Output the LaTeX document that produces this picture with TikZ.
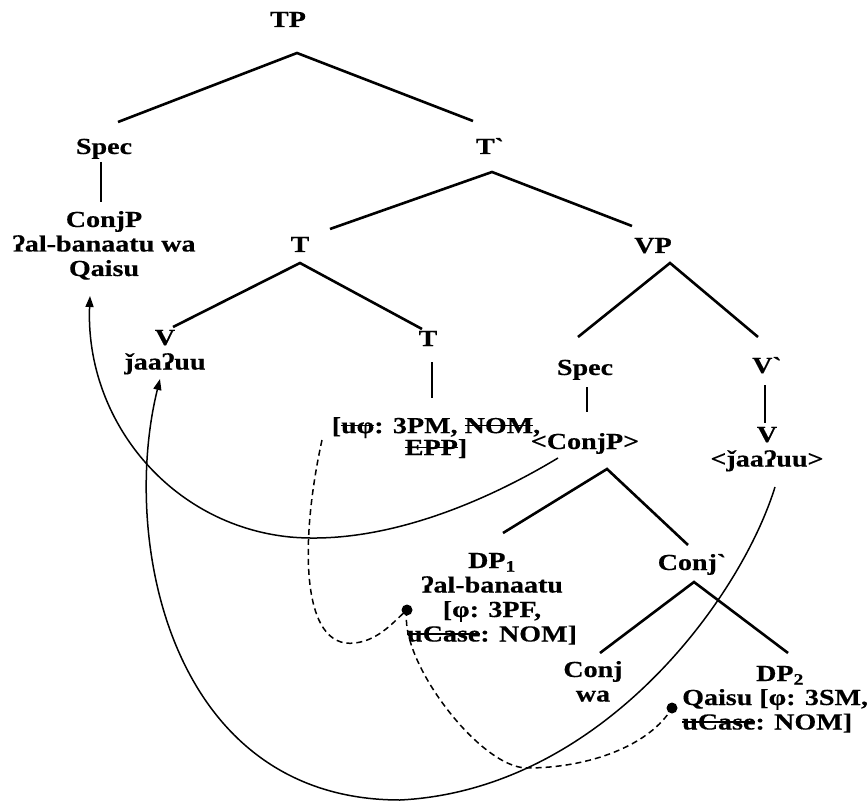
\documentclass[tikz,border=0pt]{standalone}
\usepackage{fontspec}
\usetikzlibrary{arrows.meta}
\newfontfamily\treefont{Liberation Serif}[FakeStretch=1.22, FakeBold=0.4]
% struck-out feature text
\newsavebox\strkbox
\newcommand\strk[1]{\sbox\strkbox{#1}\rlap{\rule[0.3em]{\wd\strkbox}{1.4pt}}\usebox\strkbox}
\tikzset{
  lbl/.style={font=\treefont\bfseries\fontsize{23}{24.5}\selectfont,
              inner sep=0pt, anchor=base, align=center},
  branch/.style={line width=2.6pt},
  mv/.style={line width=1.5pt, -{Triangle[length=11pt,width=8pt]}},
  agree/.style={line width=1.5pt, dash pattern=on 6pt off 4pt},
  probe/.style={circle, fill=black, inner sep=0pt, minimum size=11pt}
}
\begin{document}
\begin{tikzpicture}[x=1pt, y=-1pt]
\useasboundingbox (0,0) rectangle (867,802);

% labels (multi-line labels are placed by the baseline of their last line)
\node[lbl] (tp) at (288,27) {TP};
\node[lbl] (spec1) at (104,154) {Spec};
\node[lbl] (tbar) at (490,154) {T`};
\node[lbl] (conjp) at (104,276) {ConjP\\ʔal-banaatu wa\\Qaisu};
\node[lbl] (t) at (300,252) {T};
\node[lbl] (vp) at (653,253) {VP};
\node[lbl] (vl) at (165,369.5) {V\\ǰaaʔuu};
\node[lbl] (tr) at (428,346) {T};
\node[lbl, font=\treefont\bfseries\fontsize{23}{20}\selectfont] (tfeat) at (436,455)
  {[\strk{uφ}: 3PM, \strk{NOM},\\\strk{EPP}]};
\node[lbl] (spec2) at (585,375) {Spec};
\node[lbl] (cpcopy) at (585,449) {<ConjP>};
\node[lbl] (vbar) at (767,373) {V`};
\node[lbl] (vr) at (767,466.5) {V\\<ǰaaʔuu>};
\node[lbl] (dp1) at (492,641.5) {DP\textsubscript{1}\\ʔal-banaatu\\{}[φ: 3PF,\\\strk{uCase}: NOM]};
\node[lbl] (conjbar) at (692,570) {Conj`};
\node[lbl] (conj) at (593,701.5) {Conj\\wa};
\node[lbl] (dp2) at (780,681) {DP\textsubscript{2}};
\node[lbl, anchor=base west, align=left] (dp2f) at (682,729.5) {Qaisu [φ: 3SM,\\\strk{uCase}: NOM]};

% branch points
\coordinate (tpA) at (297,53);  \coordinate (tpL) at (118,122); \coordinate (tpR) at (473,121);
\coordinate (s1T) at (101,162); \coordinate (s1B) at (101,202);
\coordinate (tbA) at (492,172); \coordinate (tbL) at (330,229); \coordinate (tbR) at (632,226);
\coordinate (tA) at (300,263);  \coordinate (tL) at (173,327);  \coordinate (tR) at (422,329);
\coordinate (vpA) at (670,263); \coordinate (vpL) at (578,337); \coordinate (vpR) at (758,337);
\coordinate (trT) at (432,362); \coordinate (trB) at (432,398);
\coordinate (s2T) at (587,387); \coordinate (s2B) at (587,412);
\coordinate (vbT) at (765,385); \coordinate (vbB) at (765,423);
\coordinate (cpA) at (607,469); \coordinate (cpL) at (503,533); \coordinate (cpR) at (688,545);
\coordinate (cbA) at (694,582); \coordinate (cbL) at (600,653); \coordinate (cbR) at (788,653);

\draw[branch] (tpL) -- (tpA) -- (tpR);
\draw[branch] (s1T) -- (s1B);
\draw[branch] (tbL) -- (tbA) -- (tbR);
\draw[branch] (tL) -- (tA) -- (tR);
\draw[branch] (vpL) -- (vpA) -- (vpR);
\draw[branch] (trT) -- (trB);
\draw[branch] (s2T) -- (s2B);
\draw[branch] (vbT) -- (vbB);
\draw[branch] (cpL) -- (cpA) -- (cpR);
\draw[branch] (cbL) -- (cbA) -- (cbR);

% movement arrows
\coordinate (m1s) at (558,458); \coordinate (m1m) at (290,537); \coordinate (m1e) at (90,296);
\draw[mv] (m1s) .. controls (480,505) and (380,545) .. (m1m)
          .. controls (170,525) and (85,420) .. (m1e);
\coordinate (m2s) at (775,487); \coordinate (m2m) at (400,800); \coordinate (m2e) at (160,379);
\draw[mv] (m2s) .. controls (740,600) and (600,790) .. (m2m)
          .. controls (170,800) and (120,540) .. (m2e);

% agreement probes
\node[probe] (d1) at (407,610) {};
\node[probe] (d2) at (672,708) {};
\coordinate (a1s) at (322,440); \coordinate (a1m) at (355,643);
\draw[agree] (a1s) .. controls (300,540) and (300,650) .. (a1m)
             .. controls (380,640) and (395,620) .. (d1.center);
\coordinate (a2m) at (527,768);
\draw[agree] (d1.center) .. controls (398,660) and (480,768) .. (a2m)
             .. controls (590,768) and (650,745) .. (d2.center);
\end{tikzpicture}
\end{document}
